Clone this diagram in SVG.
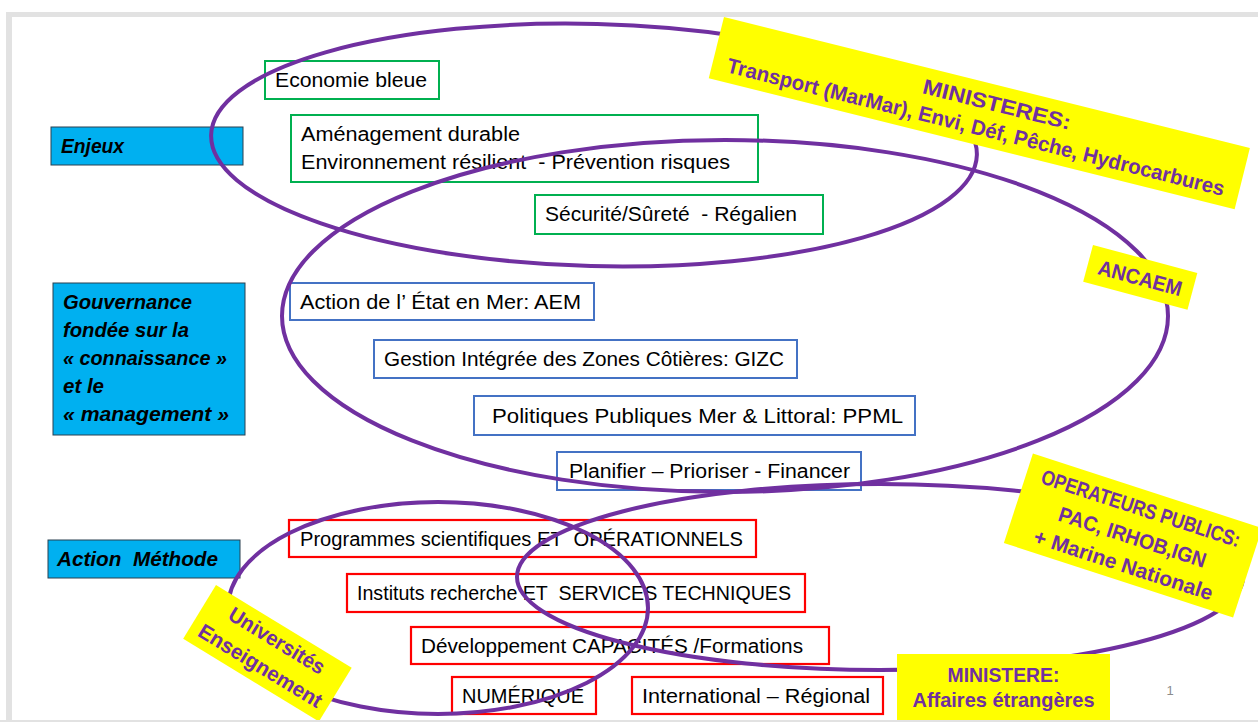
<svg xmlns="http://www.w3.org/2000/svg" width="1258" height="722" viewBox="0 0 1258 722">
<style>
.t{font-family:"Liberation Sans",Arial,sans-serif;font-size:20px;fill:#000}
.h{font-family:"Liberation Sans",Arial,sans-serif;font-size:21px;font-weight:bold;font-style:italic;fill:#000}
.y{font-family:"Liberation Sans",Arial,sans-serif;font-size:21px;font-weight:bold;fill:#7030A0;text-anchor:middle}
.g{fill:none;stroke:#00B050;stroke-width:2}
.b{fill:none;stroke:#4472C4;stroke-width:2}
.r{fill:none;stroke:#FF0000;stroke-width:2.2}
.c{fill:#00B0F0;stroke:#2A4050;stroke-width:1}
.e{fill:none;stroke:#7030A0;stroke-width:4}
.l{fill:#FFFF00}
</style>
<rect x="0" y="0" width="1258" height="722" fill="#ffffff"/>
<rect x="6" y="12" width="1252" height="710" fill="#e2e2e2"/>
<rect x="12" y="17" width="1246" height="703" fill="#ffffff"/>

<g id="enjeux"><rect class="c" x="51" y="127" width="192" height="38"/><text class="h" x="61" y="153" textLength="63" lengthAdjust="spacingAndGlyphs">Enjeux</text></g>
<g id="gouvernance"><rect class="c" x="53" y="283" width="192" height="152"/>
<text class="h" x="63" y="309" textLength="129" lengthAdjust="spacingAndGlyphs">Gouvernance</text>
<text class="h" x="63" y="337" textLength="126" lengthAdjust="spacingAndGlyphs">fondée sur la</text>
<text class="h" x="63" y="365" textLength="164" lengthAdjust="spacingAndGlyphs">« connaissance »</text>
<text class="h" x="63" y="393" textLength="41" lengthAdjust="spacingAndGlyphs">et le</text>
<text class="h" x="63" y="421" textLength="166" lengthAdjust="spacingAndGlyphs">« management »</text></g>
<g id="action-methode"><rect class="c" x="48" y="540" width="192" height="38"/><text class="h" x="57" y="566" textLength="161" lengthAdjust="spacingAndGlyphs" xml:space="preserve">Action  Méthode</text></g>

<g id="economie"><rect class="g" x="265" y="61" width="174" height="38"/><text class="t" x="275" y="87" textLength="152" lengthAdjust="spacingAndGlyphs">Economie bleue</text></g>
<g id="amenagement"><rect class="g" x="291" y="115" width="467" height="67"/>
<text class="t" x="301" y="141" textLength="219" lengthAdjust="spacingAndGlyphs">Aménagement durable</text>
<text class="t" x="301" y="169" textLength="429" lengthAdjust="spacingAndGlyphs" xml:space="preserve">Environnement résilient  - Prévention risques</text></g>
<g id="securite"><rect class="g" x="535" y="195" width="288" height="39"/><text class="t" x="545" y="221" textLength="252" lengthAdjust="spacingAndGlyphs" xml:space="preserve">Sécurité/Sûreté  - Régalien</text></g>

<g id="aem"><rect class="b" x="290" y="283" width="304" height="37"/><text class="t" x="300" y="309" textLength="281" lengthAdjust="spacingAndGlyphs">Action de l’ État en Mer: AEM</text></g>
<g id="gizc"><rect class="b" x="374" y="340" width="423" height="38"/><text class="t" x="384" y="366" textLength="400" lengthAdjust="spacingAndGlyphs">Gestion Intégrée des Zones Côtières: GIZC</text></g>
<g id="ppml"><rect class="b" x="474" y="396" width="441" height="39"/><text class="t" x="492" y="423" textLength="411" lengthAdjust="spacingAndGlyphs">Politiques Publiques Mer &amp; Littoral: PPML</text></g>
<g id="planifier"><rect class="b" x="557" y="452" width="304" height="38"/><text class="t" x="569" y="478" textLength="281" lengthAdjust="spacingAndGlyphs">Planifier – Prioriser - Financer</text></g>

<g id="programmes"><rect class="r" x="289" y="520" width="467" height="37"/><text class="t" x="300" y="546" textLength="443" lengthAdjust="spacingAndGlyphs" xml:space="preserve">Programmes scientifiques ET  OPÉRATIONNELS</text></g>
<g id="instituts"><rect class="r" x="347" y="574" width="458" height="38"/><text class="t" x="357" y="600" textLength="434" lengthAdjust="spacingAndGlyphs" xml:space="preserve">Instituts recherche ET  SERVICES TECHNIQUES</text></g>
<g id="developpement"><rect class="r" x="411" y="627" width="418" height="37"/><text class="t" x="421" y="653" textLength="382" lengthAdjust="spacingAndGlyphs">Développement CAPACITÉS /Formations</text></g>
<g id="numerique"><rect class="r" x="452" y="677" width="144" height="37"/><text class="t" x="462" y="703" textLength="122" lengthAdjust="spacingAndGlyphs">NUMÉRIQUE</text></g>
<g id="international"><rect class="r" x="632" y="677" width="251" height="37"/><text class="t" x="642" y="703" textLength="228" lengthAdjust="spacingAndGlyphs">International – Régional</text></g>

<g id="connectors">
<ellipse class="e" cx="594" cy="145" rx="383" ry="121" transform="rotate(1.5 594 145)"/>
<ellipse class="e" cx="725" cy="316" rx="443" ry="176"/>
<ellipse class="e" cx="880" cy="577" rx="363" ry="93"/>
<ellipse class="e" cx="438" cy="608" rx="210" ry="106"/>
</g>

<g id="ministeres" transform="translate(724 17) rotate(14)"><rect class="l" x="0" y="0" width="542" height="63"/>
<text class="y" x="286" y="26" textLength="152" lengthAdjust="spacingAndGlyphs">MINISTERES:</text>
<text class="y" x="271" y="53" textLength="512" lengthAdjust="spacingAndGlyphs">Transport (MarMar), Envi, Déf, Pêche, Hydrocarbures</text></g>
<g id="ancaem" transform="translate(1093 245) rotate(15)"><rect class="l" x="0" y="0" width="108" height="38"/>
<text class="y" x="54" y="27" textLength="86" lengthAdjust="spacingAndGlyphs">ANCAEM</text></g>
<g id="operateurs" transform="translate(1133 535.5) rotate(18)"><rect class="l" x="-120.5" y="-47" width="241" height="94"/>
<text class="y" x="-1" y="-21" textLength="208" lengthAdjust="spacingAndGlyphs">OPERATEURS PUBLICS:</text>
<text class="y" x="0" y="9" textLength="154" lengthAdjust="spacingAndGlyphs">PAC, IRHOB,IGN</text>
<text class="y" x="0" y="38" textLength="187" lengthAdjust="spacingAndGlyphs">+ Marine Nationale</text></g>
<g id="universites" transform="translate(216 585) rotate(31.4)"><rect class="l" x="0" y="0" width="159" height="63"/>
<text class="y" x="81" y="23" textLength="109" lengthAdjust="spacingAndGlyphs">Universités</text>
<text class="y" x="80" y="53" textLength="141" lengthAdjust="spacingAndGlyphs">Enseignement</text></g>
<g id="affaires-etrangeres"><rect class="l" x="897" y="654" width="213" height="66"/>
<text class="y" x="1003.5" y="682" textLength="112" lengthAdjust="spacingAndGlyphs">MINISTERE:</text>
<text class="y" x="1003.5" y="707" textLength="182" lengthAdjust="spacingAndGlyphs">Affaires étrangères</text></g>
<g id="page-number"><text x="1170" y="695" font-family="Liberation Sans, Arial, sans-serif" font-size="13" fill="#8c8c8c" text-anchor="middle">1</text></g>
<rect x="0" y="720" width="1258" height="2" fill="#e2e2e2"/>
</svg>
